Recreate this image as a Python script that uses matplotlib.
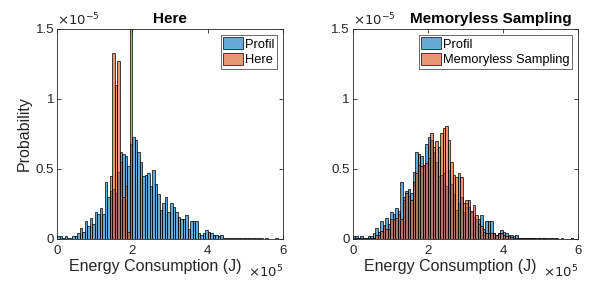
import numpy as np
import matplotlib
matplotlib.use("Agg")
import matplotlib.pyplot as plt
from matplotlib.ticker import FuncFormatter

plt.rcParams['font.family'] = ['Liberation Sans', 'DejaVu Sans']

# Histogrammdaten (Wahrscheinlichkeit je Bin, in Einheiten von 1e-5)
bin_edges = np.linspace(0, 6e5, 91)

profil = [0.02, 0.02, 0.01, 0.02, 0.01, 0.01, 0.02, 0.02, 0.04, 0.08,
          0.05, 0.13, 0.09, 0.15, 0.11, 0.19, 0.18, 0.22, 0.18, 0.41,
          0.30, 0.34, 0.36, 0.33, 0.48, 0.62, 0.61, 0.59, 0.52, 0.68,
          0.73, 0.71, 0.62, 0.55, 0.45, 0.46, 0.47, 0.38, 0.49, 0.39,
          0.32, 0.21, 0.26, 0.30, 0.19, 0.26, 0.23, 0.19, 0.16, 0.14,
          0.14, 0.17, 0.07, 0.13, 0.13, 0.13, 0.045, 0.03, 0.04, 0.065,
          0.05, 0.04, 0.03, 0.03, 0.02, 0.03, 0.01, 0.01, 0.01, 0.01,
          0.01, 0.005, 0.01, 0.005, 0.01, 0.005, 0.005, 0.01, 0.005, 0.005,
          0.005, 0.005, 0.0, 0.005, 0.0, 0.0, 0.0, 0.01, 0.0, 0.0]

here = [0.0] * 21 + [0.45, 1.33, 1.10, 1.27, 0.55, 0.30, 0.38, 0.05, 2.0] + [0.0] * 60

memoryless = [0.01, 0.01, 0.005, 0.01, 0.005, 0.005, 0.01, 0.005, 0.01, 0.03,
              0.03, 0.06, 0.10, 0.07, 0.07, 0.14, 0.14, 0.15, 0.20, 0.14,
              0.28, 0.33, 0.31, 0.28, 0.41, 0.47, 0.53, 0.52, 0.53, 0.54,
              0.58, 0.76, 0.66, 0.70, 0.66, 0.76, 0.79, 0.81, 0.71, 0.55,
              0.46, 0.44, 0.47, 0.44, 0.26, 0.28, 0.28, 0.20, 0.24, 0.17,
              0.11, 0.09, 0.05, 0.04, 0.04, 0.04, 0.04, 0.03, 0.04, 0.04,
              0.03, 0.02, 0.02, 0.015, 0.01, 0.01, 0.005, 0.01, 0.005, 0.005,
              0.005, 0.005, 0.005, 0.0, 0.005, 0.0, 0.005, 0.0, 0.0, 0.0,
              0.0, 0.0, 0.0, 0.0, 0.0, 0.0, 0.0, 0.005, 0.0, 0.0]

titles = ['Here', 'Memoryless Sampling']
others = [here, memoryless]
# Titel rechts wird (wie in MATLAB) wegen des Exponenten nach rechts geschoben
title_x = [0.5, 0.613]

# MATLAB-Farben, FaceAlpha 0.6, Kanten voll schwarz
blau = (0, 0.447, 0.741, 0.6)
orange = (0.85, 0.325, 0.098, 0.6)
grau = '#262626'

fig = plt.figure(figsize=(5.95, 2.84), dpi=100)
axes = [fig.add_axes([0.0958, 0.1585, 0.3798, 0.7394]),
        fig.add_axes([0.5928, 0.1585, 0.3787, 0.7394])]

breite = np.diff(bin_edges)
for ax, titel, werte, tx in zip(axes, titles, others, title_x):
    ax.bar(bin_edges[:-1], np.array(profil) * 1e-5, width=breite, align='edge',
           facecolor=blau, edgecolor='black', linewidth=0.5, label='Profil')
    ax.bar(bin_edges[:-1], np.array(werte) * 1e-5, width=breite, align='edge',
           facecolor=orange, edgecolor='black', linewidth=0.5, label=titel)

    ax.set_xlim(0, 6e5)
    ax.set_ylim(0, 1.5e-5)
    ax.set_xticks([0, 2e5, 4e5, 6e5])
    ax.set_yticks([0, 0.5e-5, 1e-5, 1.5e-5])
    ax.xaxis.set_major_formatter(FuncFormatter(lambda v, p: f'{v / 1e5:g}'))
    ax.yaxis.set_major_formatter(FuncFormatter(lambda v, p: f'{v / 1e-5:g}'))
    ax.tick_params(direction='in', length=3, width=0.6, labelsize=9.5,
                   top=True, right=True, colors=grau)
    ax.tick_params(axis='x', pad=4)
    ax.tick_params(axis='y', pad=2)
    for s in ax.spines.values():
        s.set_linewidth(0.6)
        s.set_color(grau)

    ax.set_title(titel, fontsize=11, fontweight='bold', pad=4, x=tx)
    ax.set_xlabel('Energy Consumption (J)', fontsize=11.5, color=grau)
    ax.xaxis.set_label_coords(0.434, -0.095)
    ax.text(0, 1.005, r'$\times10^{-5}$', transform=ax.transAxes, fontsize=9.5,
            ha='left', va='bottom', color=grau)
    ax.text(1.0, -0.155, r'$\times10^{5}$', transform=ax.transAxes, fontsize=9.5,
            ha='right', va='center', color=grau)
    leg = ax.legend(loc='upper right', fontsize=9.3, handlelength=1.5, handleheight=1.0,
                    handletextpad=0.2, borderpad=0.2, labelspacing=0.2,
                    fancybox=False, edgecolor=grau, borderaxespad=0.45)
    leg.get_frame().set_linewidth(0.6)

axes[0].set_ylabel('Probability', fontsize=11.5, color=grau, labelpad=3)

fig.savefig('out.png', dpi=100)
